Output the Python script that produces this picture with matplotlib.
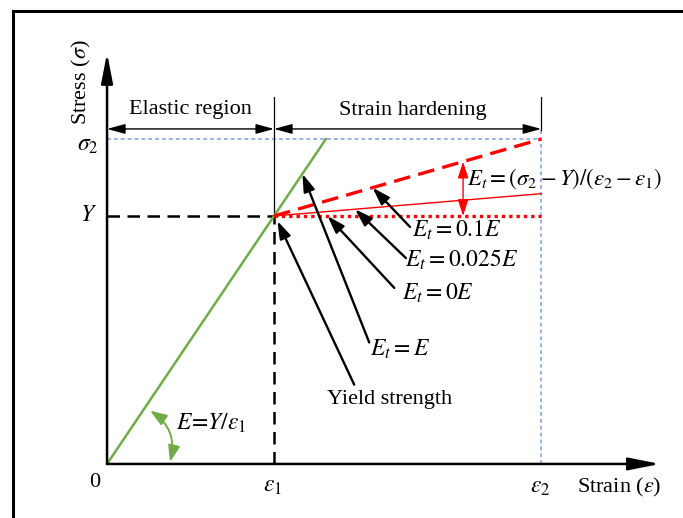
import matplotlib
matplotlib.use("Agg")
import matplotlib.pyplot as plt
import numpy as np

plt.rcParams["font.family"] = ["Liberation Serif", "DejaVu Serif"]
plt.rcParams["mathtext.fontset"] = "stix"

# key values (normalised strain / stress)
eps1 = 1.0
eps2 = 2.6
Y = 1.0
sigma2 = 1.31
E = Y / eps1

# hardening branches: label, stress reached at eps2, style
hard_labels = ["0.1E", "0.025E", "0E"]
hard_end = [sigma2, 1.09, 1.0]
hard_style = ["--", "-", ":"]
hard_lw = [2.4, 1.0, 2.4]

# where each annotation arrow touches its line (strain value)
hit_strain = [1.59, 1.485, 1.32]
E_hit = 1.17

GREEN = "#70AD47"
BLUE = "#7A9FDC"
RED = "#FF0000"

fig = plt.figure(figsize=(6.83, 5.18), dpi=100)
ax = fig.add_axes([0, 0, 1, 1])
ax.set_xlim(-0.641, 3.449)
ax.set_ylim(-0.218, 1.871)
ax.axis("off")

# outer frame (only top and left visible)
ax.plot([0.019, 0.019, 1.0], [0.0, 0.979, 0.979], transform=ax.transAxes,
        color="black", lw=2.2, solid_joinstyle="miter")

# axes with arrows
ax.annotate("", xy=(0, 1.657), xytext=(0, 0),
            arrowprops=dict(arrowstyle="-|>,head_length=1.8,head_width=0.35",
                            mutation_scale=10, lw=1.8, color="black",
                            shrinkA=0, shrinkB=0))
ax.annotate("", xy=(3.311, 0), xytext=(0, 0),
            arrowprops=dict(arrowstyle="-|>,head_length=1.9,head_width=0.38",
                            mutation_scale=10, lw=1.8, color="black",
                            shrinkA=0, shrinkB=0))

# guide lines
ax.plot([0, eps2], [sigma2, sigma2], color=BLUE, lw=1.1, dashes=(2.5, 2))
ax.plot([eps2, eps2], [0, 1.345], color=BLUE, lw=1.1, dashes=(2.5, 2))
ax.plot([0, eps1], [Y, Y], color="black", lw=1.8, dashes=(5, 3))
ax.plot([eps1, eps1], [0, Y], color="black", lw=1.8, dashes=(5, 3))
ax.plot([eps1, eps1], [Y, 1.48], color="black", lw=0.9)
ax.plot([eps2, eps2], [1.345, 1.48], color="black", lw=0.9)

# region arrows
for x0, x1 in [(0, eps1), (eps1, eps2)]:
    ax.annotate("", xy=(x1, 1.351), xytext=(x0, 1.351),
                arrowprops=dict(arrowstyle="<|-|>,head_length=1.1,head_width=0.3",
                                mutation_scale=10, lw=1.0, color="black",
                                shrinkA=0, shrinkB=0))
ax.text(eps1 / 2, 1.411, "Elastic region", ha="center", va="baseline", fontsize=16)
ax.text((eps1 + eps2) / 2 + 0.03, 1.407, "Strain hardening", ha="center",
        va="baseline", fontsize=16)

# elastic line
ax.plot([0, sigma2 / E], [0, sigma2], color=GREEN, lw=1.8)

# hardening lines
for end, ls, lw in zip(hard_end, hard_style, hard_lw):
    line, = ax.plot([eps1, eps2], [Y, end], color=RED, lw=lw, linestyle=ls)
    if ls == "--":
        line.set_dashes((5, 2.5))
    if ls == ":":
        line.set_dashes((1, 1.2))

# black annotation arrows
arrow_kw = dict(arrowstyle="-|>,head_length=1.05,head_width=0.34",
                mutation_scale=10, lw=1.7, color="black", shrinkA=0, shrinkB=0)
tails = [(1.814, 0.956), (1.790, 0.83), (1.72, 0.710)]
texts = [(1.826, 0.915), (1.784, 0.794), (1.766, 0.661)]
for lab, end, xs, tail, tp in zip(hard_labels, hard_end, hit_strain, tails, texts):
    ys = Y + (end - Y) * (xs - eps1) / (eps2 - eps1)
    ax.annotate("", xy=(xs, ys), xytext=tail, arrowprops=arrow_kw)
    ax.text(tp[0], tp[1], r"$E_t = %s$" % lab, ha="left", va="baseline", fontsize=17)

ax.annotate("", xy=(E_hit, E * E_hit), xytext=(1.57, 0.49), arrowprops=arrow_kw)
ax.text(1.575, 0.435, r"$E_t = E$", ha="left", va="baseline", fontsize=17)

ax.annotate("", xy=(eps1 + 0.02, Y - 0.02), xytext=(1.48, 0.32), arrowprops=arrow_kw)
ax.text(1.317, 0.242, "Yield strength", ha="left", va="baseline", fontsize=16)

# red double arrow for tangent modulus
xr = 2.132
yr = Y + (hard_end[0] - Y) * (xr - eps1) / (eps2 - eps1)
ax.annotate("", xy=(xr, yr), xytext=(xr, Y),
            arrowprops=dict(arrowstyle="<|-|>,head_length=1.0,head_width=0.32",
                            mutation_scale=10, lw=1.0, color=RED,
                            shrinkA=0, shrinkB=0))
ax.text(2.156, 1.125, r"$E_t = (\sigma_2 - Y)/(\varepsilon_2 - \varepsilon_1)$",
        ha="left", va="baseline", fontsize=16.5)

# green arc arrow for elastic modulus
ax.annotate("", xy=(0.377, 0.008), xytext=(0.258, 0.215),
            arrowprops=dict(arrowstyle="<|-|>,head_length=1.0,head_width=0.36",
                            mutation_scale=10, lw=1.4, color=GREEN,
                            shrinkA=0, shrinkB=0,
                            connectionstyle="arc3,rad=-0.35"))
ax.text(0.413, 0.137, r"$E\!=\!Y/\varepsilon_1$", ha="left", va="baseline", fontsize=17)

# tick labels
ax.text(-0.072, -0.073, "0", ha="center", va="center", fontsize=16)
ax.text(eps1 - 0.012, -0.089, r"$\varepsilon_1$", ha="center", va="center", fontsize=17)
ax.text(eps2 - 0.007, -0.097, r"$\varepsilon_2$", ha="center", va="center", fontsize=17)
ax.text(-0.114, sigma2 - 0.024, r"$\sigma_2$", ha="center", va="center", fontsize=17)
ax.text(-0.114, Y, r"$Y$", ha="center", va="center", fontsize=17)

ax.text(3.07, -0.093, r"Strain ($\varepsilon$)", ha="center", va="center", fontsize=16)
ax.text(-0.155, 1.54, r"Stress ($\sigma$)", ha="center", va="center", fontsize=16,
        rotation=90)

fig.savefig("out.png", dpi=100)
